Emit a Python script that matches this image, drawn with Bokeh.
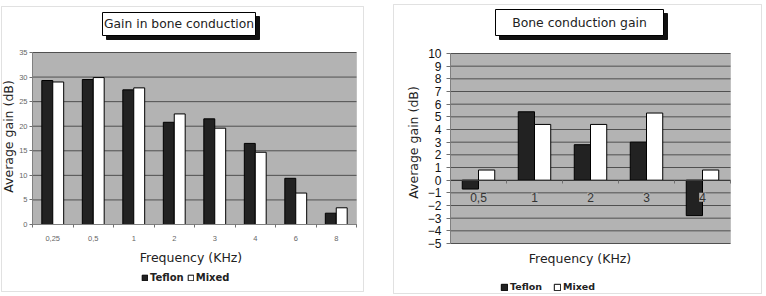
from math import pi

from bokeh.core.properties import value
from bokeh.embed import file_html
from bokeh.layouts import row
from bokeh.models import (BoxAnnotation, ColumnDataSource, FixedTicker, Label,
                          LabelSet, Legend, LegendItem, Range1d)
from bokeh.plotting import figure
from bokeh.resources import INLINE

# Left chart: gain in bone conduction per frequency (dB)
freq_a = ["0,25", "0,5", "1", "2", "3", "4", "6", "8"]
teflon_a = [29.3, 29.5, 27.4, 20.8, 21.5, 16.5, 9.4, 2.3]
mixed_a = [29.0, 29.9, 27.8, 22.5, 19.6, 14.7, 6.4, 3.4]
yticks_a = list(range(0, 36, 5))

# Right chart: bone conduction gain per frequency (dB)
freq_b = ["0,5", "1", "2", "3", "4"]
teflon_b = [-0.7, 5.4, 2.8, 3.0, -2.8]
mixed_b = [0.8, 4.4, 4.4, 5.3, 0.8]
yticks_b = list(range(-5, 11))

series = ["Teflon", "Mixed"]
title_a = "Gain in bone conduction"
title_b = "Bone conduction gain"
x_title = "Frequency (KHz)"
y_title = "Average gain (dB)"

W, H = 383, 296
PLOT_BG = "#b3b3b3"
GRID = "#505050"
DARK = "#222222"
SANS = "DejaVu Sans"
ARIAL = "Liberation Sans"


class Panel:
    """A figure whose frame fills the canvas; the plot area is a pixel box
    (left, right, top, bottom) mapped onto the data window."""

    def __init__(self, inner, xlo, xhi, ylo, yhi):
        l, r, t, b = inner
        self.inner = inner
        self.xlo, self.ylo = xlo, ylo
        self.kx = (xhi - xlo) / (r - l)
        self.ky = (yhi - ylo) / (b - t)
        self.p = figure(width=W, height=H, output_backend="svg",
                        toolbar_location=None,
                        x_range=Range1d(xlo - l * self.kx, xlo + (W - l) * self.kx),
                        y_range=Range1d(ylo - (H - b) * self.ky, ylo + b * self.ky),
                        min_border_left=0, min_border_right=0,
                        min_border_top=0, min_border_bottom=0,
                        background_fill_color="white", border_fill_color="white",
                        outline_line_color=None)
        self.p.xgrid.visible = False
        self.p.ygrid.visible = False

    def x(self, cx):
        return self.xlo + (cx - self.inner[0]) * self.kx

    def y(self, cy):
        return self.ylo + (self.inner[3] - cy) * self.ky

    def box(self, x0, y0, x1, y1, level="annotation", **style):
        self.p.add_layout(BoxAnnotation(left=self.x(x0), right=self.x(x1),
                                        top=self.y(y0), bottom=self.y(y1),
                                        level=level, **style))

    def quad(self, x0, y0, x1, y1, **style):
        self.p.quad(left=[self.x(x0)], right=[self.x(x1)],
                    top=[self.y(y0)], bottom=[self.y(y1)], **style)

    def text(self, cx, cy, text, size, angle=0.0, style="normal", color=DARK):
        self.p.add_layout(Label(x=self.x(cx), y=self.y(cy), text=text, angle=angle,
                                text_align="center", text_baseline="middle",
                                text_font=SANS, text_font_size=size,
                                text_font_style=style, text_color=color))

    def title_box(self, x0, y0, x1, y1, text, size):
        # drop shadow, then the white framed box, then the title text
        self.quad(x0 + 4, y0 + 4, x1 + 4, y1 + 4, fill_color="#111111",
                  line_color="#111111", line_width=1)
        self.quad(x0, y0, x1, y1, fill_color="white", line_color="black",
                  line_width=1)
        self.text((x0 + x1) / 2, (y0 + y1) / 2, text, size)

    def legend(self, rt, rm, cx, cy_bottom, glyph, size, spacing):
        leg = Legend(items=[LegendItem(label=series[0], renderers=[rt]),
                            LegendItem(label=series[1], renderers=[rm])],
                     orientation="horizontal", location=(cx, H - cy_bottom),
                     glyph_width=glyph, glyph_height=glyph, label_standoff=2,
                     spacing=spacing, padding=0, margin=0,
                     label_text_font=SANS, label_text_font_size=size,
                     label_text_font_style="bold", label_text_color=DARK,
                     label_height=glyph, border_line_alpha=0,
                     background_fill_alpha=0)
        self.p.add_layout(leg)


def plot_area(pn, n, ticks):
    """Grey plot area with horizontal grid lines at the y ticks."""
    pn.box(pn.inner[0], pn.inner[2], pn.inner[1], pn.inner[3], level="image",
           fill_color=PLOT_BG, fill_alpha=1, line_color="#8c8c8c", line_width=1)
    pn.p.segment(x0=[0] * len(ticks), x1=[n] * len(ticks), y0=ticks, y1=ticks,
                 line_color=GRID, line_width=1)


def add_bars(p, n, tef, mix, width):
    centers = [i + 0.5 for i in range(n)]
    src = ColumnDataSource(dict(
        xt=[c - width / 2 for c in centers], xm=[c + width / 2 for c in centers],
        tef=tef, mix=mix))
    rt = p.vbar(x="xt", top="tef", bottom=0, width=width, source=src,
                fill_color=DARK, line_color="black", line_width=1)
    rm = p.vbar(x="xm", top="mix", bottom=0, width=width, source=src,
                fill_color="white", line_color="black", line_width=1)
    return centers, rt, rm


def style_axis(ax, font_size, color, standoff, tick_out):
    ax.major_tick_out = tick_out
    ax.major_tick_in = 0
    ax.minor_tick_out = 0
    ax.minor_tick_in = 0
    ax.major_tick_line_color = "#707070"
    ax.minor_tick_line_color = "#707070"
    ax.axis_line_color = "#808080"
    ax.major_label_standoff = standoff
    ax.major_label_text_font = ARIAL
    ax.major_label_text_font_size = font_size
    ax.major_label_text_color = color


# ---------------- left chart ----------------
A = Panel((32, 356, 52, 224), 0, len(freq_a), 0, 35)
pa = A.p
A.box(1, 6, 363, 291, fill_alpha=0, line_color="#9c9c9c", line_width=1)
plot_area(A, len(freq_a), yticks_a)
centers_a, rta, rma = add_bars(pa, len(freq_a), teflon_a, mixed_a, 0.27)

xa = pa.xaxis[0]
xa.fixed_location = 0
xa.bounds = (0, len(freq_a))
xa.ticker = FixedTicker(ticks=centers_a, minor_ticks=list(range(len(freq_a) + 1)))
xa.major_label_overrides = {c: lab for c, lab in zip(centers_a, freq_a)}
style_axis(xa, "7.5px", "#666666", 8, 0)
xa.minor_tick_out = 3

ya = pa.yaxis[0]
ya.fixed_location = 0
ya.bounds = (0, 35)
ya.ticker = FixedTicker(ticks=yticks_a)
style_axis(ya, "7.5px", "#666666", 2, 3)

A.title_box(102, 12, 255, 35, title_a, "12.3px")
A.text(7.5, 136, y_title, "12.5px", angle=pi / 2)
A.text(190.5, 256.5, x_title, "12.5px")
A.legend(rta, rma, 141, 283, 7, "10px", 3)

# ---------------- right chart ----------------
B = Panel((450 - W, 730 - W, 53, 243), 0, len(freq_b), -5, 10)
pb = B.p
B.box(393 - W, 4, 761 - W, 293, fill_alpha=0, line_color="#9c9c9c", line_width=1)
plot_area(B, len(freq_b), yticks_b)
centers_b, rtb, rmb = add_bars(pb, len(freq_b), teflon_b, mixed_b, 0.29)

# category axis runs along the zero line
xb = pb.xaxis[0]
xb.fixed_location = 0
xb.bounds = (0, len(freq_b))
xb.ticker = FixedTicker(ticks=[], minor_ticks=list(range(len(freq_b) + 1)))
style_axis(xb, "12px", "#333333", 4, 0)
xb.axis_line_color = "#3a3a3a"
xb.minor_tick_out = 3

# category labels sit just under the zero line, inside the plot
lab_src = ColumnDataSource(dict(x=centers_b, text=freq_b))
pb.add_layout(LabelSet(x="x", y=-1.35, text="text", source=lab_src,
                       text_align="center", text_baseline="middle",
                       text_font=value(ARIAL), text_font_size="12px",
                       text_color="#333333", background_fill_color=PLOT_BG))

yb = pb.yaxis[0]
yb.fixed_location = 0
yb.bounds = (-5, 10)
yb.ticker = FixedTicker(ticks=yticks_b)
style_axis(yb, "12px", "#111111", 5, 4)

B.title_box(495 - W, 9, 663 - W, 35, title_b, "12.4px")
B.text(413 - W, 142, y_title, "12.5px", angle=pi / 2)
B.text(579.5 - W, 258, x_title, "12.5px")
B.legend(rtb, rmb, 500 - W, 292, 8, "9.5px", 11)

layout = row(pa, pb)
open("out.html", "w").write(file_html(layout, INLINE))
